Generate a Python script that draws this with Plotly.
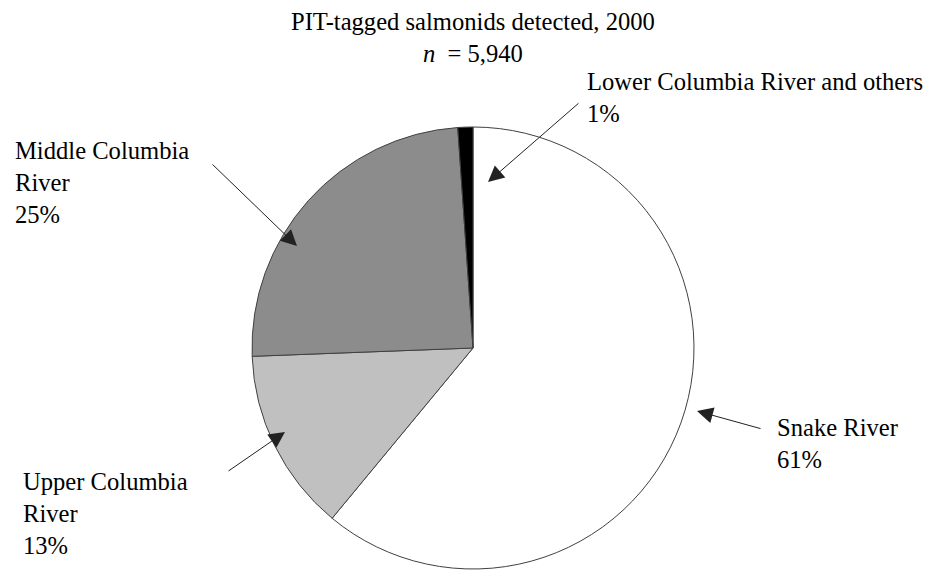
import plotly.graph_objects as go

# data (percent of detections), clockwise from 12 o'clock
regions = ["Snake River", "Upper Columbia River", "Middle Columbia River",
           "Lower Columbia River and others"]
shares = [61.0, 13.4, 24.5, 1.1]
colors = ["white", "#c0c0c0", "#8c8c8c", "black"]

label_text = [
    "Snake River<br>61%",
    "Upper Columbia<br>River<br>13%",
    "Middle Columbia<br>River<br>25%",
    "Lower Columbia River and others<br>1%",
]

W, H = 942, 578
FONT = "Liberation Serif"
FSIZE = 24.6

fig = go.Figure()

fig.add_trace(go.Pie(
    labels=regions,
    values=shares,
    sort=False,
    direction="clockwise",
    rotation=0,
    marker={"colors": colors, "line": {"color": "#404040", "width": 1}},
    textinfo="none",
    hoverinfo="label+percent",
    showlegend=False,
    domain={"x": [252 / W, 694 / W], "y": [1 - 569 / H, 1 - 127 / H]},
))

# label placement (pixels: text anchor, arrow head, arrow tail)
labels_pos = [
    {"tx": 775, "ty": 443, "head": (697, 411), "tail": (762, 429)},
    {"tx": 21, "ty": 513, "head": (285, 432), "tail": (227, 472)},
    {"tx": 13, "ty": 182, "head": (297, 246), "tail": (211, 163)},
    {"tx": 585, "ty": 97, "head": (488, 182), "tail": (580, 102)},
]

annotations = []
for txt, p in zip(label_text, labels_pos):
    annotations.append(dict(
        x=p["tx"], y=p["ty"], xref="x", yref="y", text=txt,
        showarrow=False, xanchor="left", yanchor="middle", align="left",
        font={"family": FONT, "size": FSIZE, "color": "black"},
    ))
    annotations.append(dict(
        x=p["head"][0], y=p["head"][1], xref="x", yref="y",
        ax=p["tail"][0], ay=p["tail"][1], axref="x", ayref="y",
        text="", showarrow=True, arrowhead=2, arrowsize=3.2,
        arrowwidth=1, arrowcolor="#222222",
    ))

annotations.append(dict(
    x=473, y=37, xref="x", yref="y",
    text="PIT-tagged salmonids detected, 2000<br><i>n</i>  = 5,940",
    showarrow=False, xanchor="center", yanchor="middle", align="center",
    font={"family": FONT, "size": FSIZE, "color": "black"},
))

fig.update_layout(
    width=W, height=H,
    margin={"l": 0, "r": 0, "t": 0, "b": 0},
    font={"family": FONT, "color": "black"},
    paper_bgcolor="white", plot_bgcolor="white",
    xaxis={"range": [0, W], "visible": False, "fixedrange": True},
    yaxis={"range": [H, 0], "visible": False, "fixedrange": True},
    annotations=annotations,
)

# drop the default 8px page margin so the figure sits at the window corner
fig.write_html("out.html", config={"displayModeBar": False},
               post_script="document.body.style.margin = '0';")
